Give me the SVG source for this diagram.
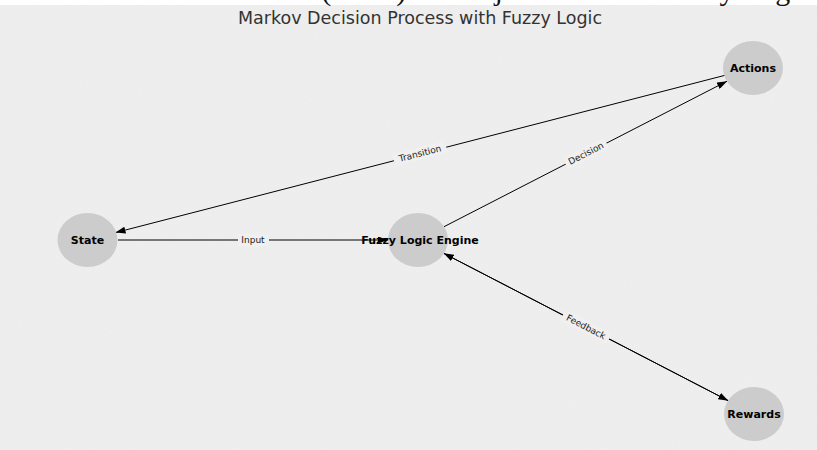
<svg xmlns="http://www.w3.org/2000/svg" width="817" height="450" viewBox="0 0 817 450">
<defs>
<style>
.node{fill:#cccccc;}
.nlabel{font-family:"DejaVu Sans",sans-serif;font-size:11px;font-weight:bold;fill:#000;text-anchor:middle;dominant-baseline:central;}
.edge{stroke:#000;stroke-width:1;fill:none;marker-end:url(#arrow);}
.elabel{font-family:"DejaVu Sans",sans-serif;font-size:9px;fill:#222;text-anchor:middle;dominant-baseline:central;}
.lbg{fill:#f0f0f0;}
</style>
<marker id="arrow" viewBox="0 0 10 7" refX="10" refY="3.5" markerWidth="10" markerHeight="7" markerUnits="userSpaceOnUse" orient="auto">
<path d="M0,0 L10,3.5 L0,7 z" fill="#000"/>
</marker>
<filter id="noise" x="0" y="0" width="100%" height="100%">
<feTurbulence type="fractalNoise" baseFrequency="0.9" numOctaves="1" seed="3" result="t"/>
<feColorMatrix type="matrix" values="0 0 0 0 0.55  0 0 0 0 0.55  0 0 0 0 0.6  0 0 0 0.12 0" in="t" result="n"/>
<feComposite in="n" in2="SourceGraphic" operator="in" result="m"/>
<feMerge><feMergeNode in="SourceGraphic"/><feMergeNode in="m"/></feMerge>
</filter>
</defs>
<rect x="0" y="0" width="817" height="450" fill="#ffffff"/>
<rect x="0" y="5" width="817" height="445" fill="#f0f0f0" filter="url(#noise)"/>
<text x="812" y="0" font-family="Liberation Serif,serif" font-size="30" text-anchor="end" fill="#111">Markov Decision Process (MDP) in Conjunction with Fuzzy Logic</text>
<text x="420" y="24" font-family="DejaVu Sans,sans-serif" font-size="17.5" text-anchor="middle" fill="#333">Markov Decision Process with Fuzzy Logic</text>
<g id="connectors">
<path class="edge" d="M118,240 L388,240"/>
<path class="edge" d="M725,75.3 L115.5,232.6"/>
<path class="edge" d="M444,226.7 L727,81.2"/>
<path class="edge" d="M443.7,253.3 L728.3,400.7"/>
<path class="edge" d="M728.3,400.7 L443.7,253.3"/>
<g id="label-input"><rect class="lbg" x="238" y="234" width="31" height="12"/><text class="elabel" x="253" y="240">Input</text></g>
<g id="label-transition" transform="translate(420,153.5) rotate(-14.5)"><rect class="lbg" x="-27" y="-6" width="54" height="12"/><text class="elabel" x="0" y="0">Transition</text></g>
<g id="label-decision" transform="translate(586,153.5) rotate(-27.2)"><rect class="lbg" x="-23" y="-6" width="46" height="12"/><text class="elabel" x="0" y="0">Decision</text></g>
<g id="label-feedback" transform="translate(586,327) rotate(27.4)"><rect class="lbg" x="-26" y="-6" width="52" height="12"/><text class="elabel" x="0" y="0">Feedback</text></g>
</g>
<g id="node-state"><ellipse class="node" cx="87.5" cy="240" rx="30" ry="27"/><text class="nlabel" x="87.5" y="240">State</text></g>
<g id="node-fuzzy"><ellipse class="node" cx="418" cy="240" rx="30" ry="27"/><text class="nlabel" x="420" y="240">Fuzzy Logic Engine</text></g>
<g id="node-actions"><ellipse class="node" cx="753" cy="68" rx="30" ry="27"/><text class="nlabel" x="753" y="68">Actions</text></g>
<g id="node-rewards"><ellipse class="node" cx="754" cy="414" rx="30" ry="27"/><text class="nlabel" x="754" y="414">Rewards</text></g>
</svg>
